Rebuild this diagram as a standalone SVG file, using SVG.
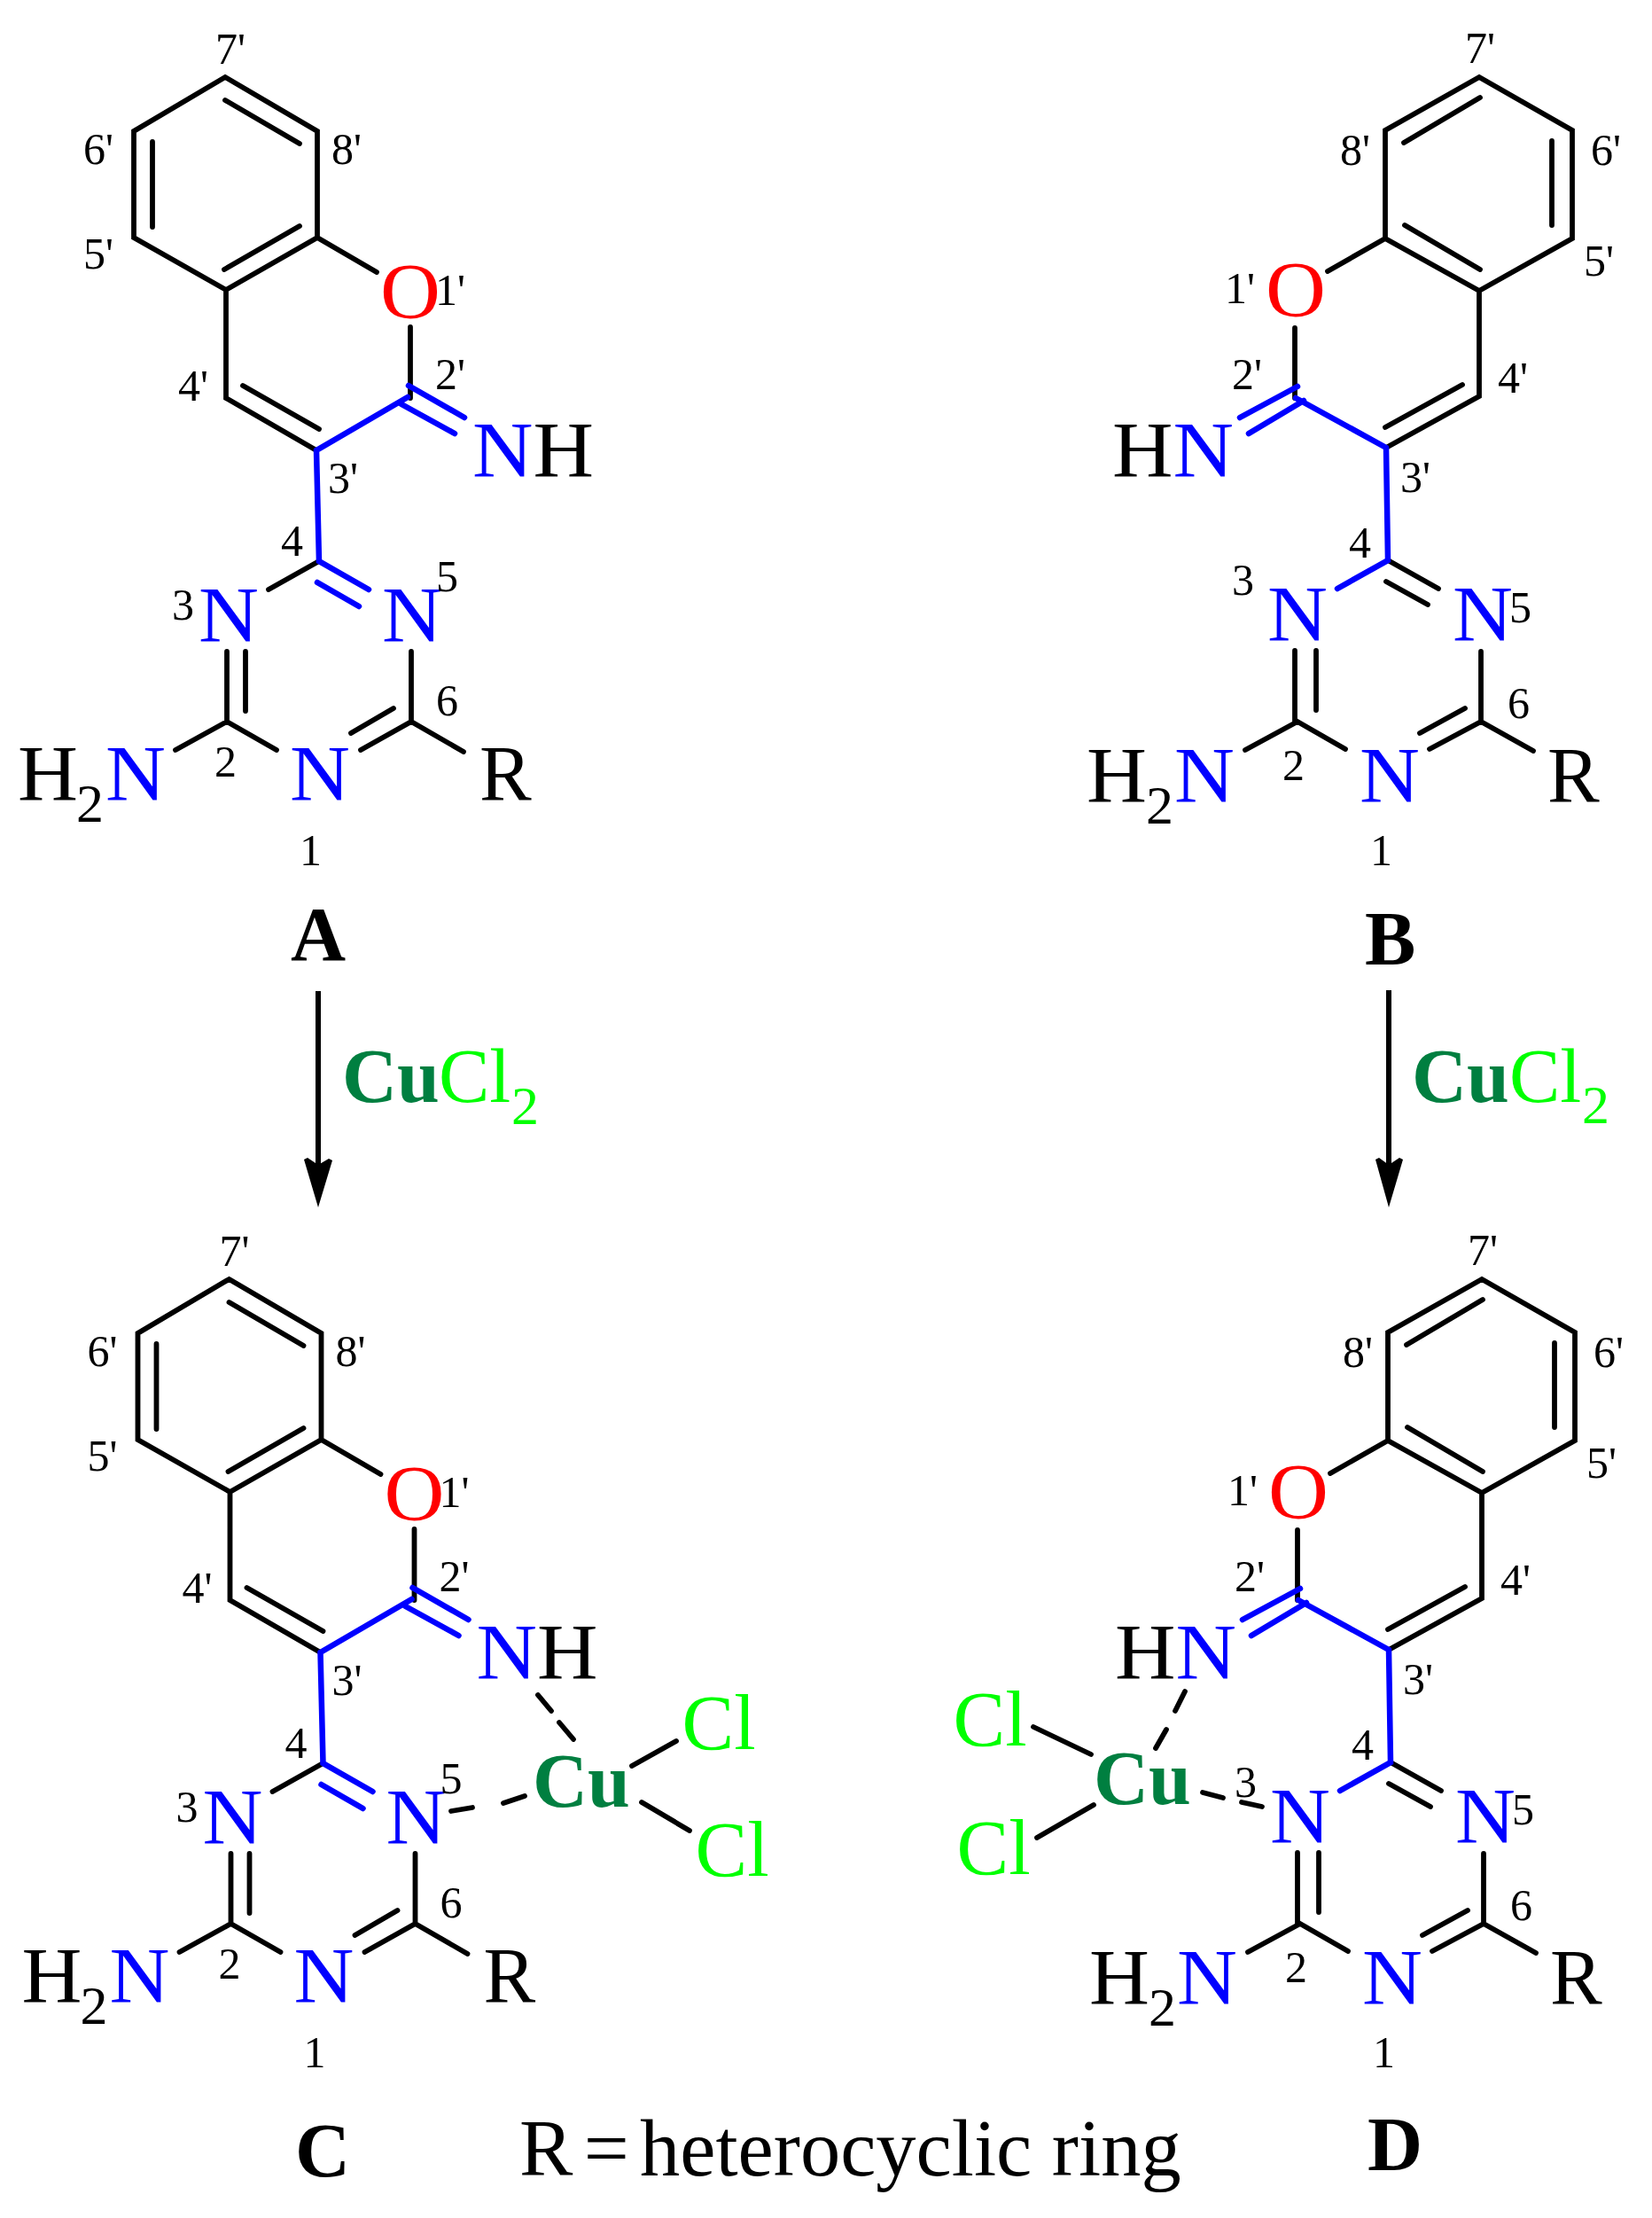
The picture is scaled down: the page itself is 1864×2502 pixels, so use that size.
<svg xmlns="http://www.w3.org/2000/svg" width="1864" height="2502" viewBox="0 0 1864 2502">
<defs><style>
text{font-family:"Liberation Serif","Times New Roman",serif;fill:#000}
.a{font-size:88px}.l{font-size:50px}.s{font-size:62px}.b{font-size:86px;font-weight:700}.cap{font-size:90.5px}
.bl{fill:#0000ff}.r{fill:#ff0000}.g{fill:#00ff00}.dg{fill:#007f40;font-weight:700}
.k{stroke:#000;stroke-width:5.8;fill:none;stroke-linecap:round;stroke-linejoin:miter}
.u{stroke:#0000ff;stroke-width:6.5;fill:none;stroke-linecap:round;stroke-linejoin:miter}
.sh{stroke:#000;stroke-width:6;fill:none}
</style></defs>
<rect width="1864" height="2502" fill="#fff"/>
<g id="connectors">
<path class="sh" d="M359 1118V1316"/><path d="M359 1362L343 1308L347 1306L359 1314L371 1307L375 1309Z" fill="#000"/>
<path class="sh" d="M1567 1117V1316"/><path d="M1567 1362L1552 1308L1556 1306L1567 1314L1579 1306L1583 1308Z" fill="#000"/>
</g>
<g id="A">
<path class="k" d="M254 87L358 148V268L255 327L151 268V148ZM254 113L338 162M253 304L338 255M172 160V256M358 268L425 307M463 369V449M255 327V449L357 508M274 435L360 484M360 633L303 665M256 735V814M277 735V802M198 846L256 814L312 846M464 735V814L407 846M444 799L396 827M464 814L523 848"/>
<path class="u" d="M357 508L460 448M461 435L524 471M453 456L513 489M357 508L360 633L416 665M358 657L405 684"/>
<text class="a r" x="429" y="358" textLength="68" lengthAdjust="spacingAndGlyphs">O</text>
<text class="a" x="533" y="537" textLength="137" lengthAdjust="spacingAndGlyphs"><tspan class="bl">N</tspan>H</text>
<text class="a bl" x="224" y="723" textLength="68" lengthAdjust="spacingAndGlyphs">N</text><text class="a bl" x="431" y="723" textLength="68" lengthAdjust="spacingAndGlyphs">N</text><text class="a bl" x="327" y="902" textLength="68" lengthAdjust="spacingAndGlyphs">N</text>
<text class="a" x="541" y="902">R</text>
<text class="a" x="20" y="902" textLength="68" lengthAdjust="spacingAndGlyphs">H</text><text class="s" x="86" y="927">2</text><text class="a bl" x="119" y="902" textLength="68" lengthAdjust="spacingAndGlyphs">N</text>
<text class="l" x="243" y="72">7'</text><text class="l" x="94" y="185">6'</text><text class="l" x="374" y="185">8'</text><text class="l" x="94" y="303">5'</text><text class="l" x="491" y="344">1'</text><text class="l" x="491" y="439">2'</text><text class="l" x="201" y="452">4'</text><text class="l" x="370" y="556">3'</text><text class="l" x="317" y="627">4</text><text class="l" x="194" y="699">3</text><text class="l" x="492" y="667">5</text><text class="l" x="492" y="807">6</text><text class="l" x="242" y="876">2</text><text class="l" x="338" y="976">1</text>
<text class="b" x="328" y="1083">A</text>
</g>
<g id="B" transform="translate(-3 -1356)">
<path class="k" d="M1672 1443L1777 1503V1625L1672 1684L1566 1625V1503ZM1587 1517L1673 1466M1588 1610L1673 1660M1754 1515V1610M1566 1625L1501 1662M1464 1726V1805M1672 1684V1803L1567 1861M1566 1838L1653 1790M1569 1988L1626 2020M1567 2012L1614 2038M1464 2090V2170M1488 2090V2157M1408 2202L1467 2170L1521 2201M1674 2091V2170L1616 2201M1656 2155L1605 2183M1674 2170L1733 2203"/>
<path class="u" d="M1567 1861L1465 1805M1467 1792L1402 1827M1474 1808L1412 1845M1567 1861L1569 1988L1512 2020"/>
<text class="a r" x="1431" y="1712" textLength="68" lengthAdjust="spacingAndGlyphs">O</text>
<text class="a" x="1258" y="1893" textLength="137" lengthAdjust="spacingAndGlyphs">H<tspan class="bl">N</tspan></text>
<text class="a bl" x="1433" y="2078" textLength="68" lengthAdjust="spacingAndGlyphs">N</text><text class="a bl" x="1642" y="2078" textLength="68" lengthAdjust="spacingAndGlyphs">N</text><text class="a bl" x="1537" y="2260" textLength="68" lengthAdjust="spacingAndGlyphs">N</text>
<text class="a" x="1749" y="2260">R</text>
<text class="a" x="1229" y="2260" textLength="68" lengthAdjust="spacingAndGlyphs">H</text><text class="s" x="1296" y="2285">2</text><text class="a bl" x="1328" y="2260" textLength="68" lengthAdjust="spacingAndGlyphs">N</text>
<text class="l" x="1656" y="1427">7'</text><text class="l" x="1515" y="1542">8'</text><text class="l" x="1798" y="1542">6'</text><text class="l" x="1790" y="1667">5'</text><text class="l" x="1385" y="1698">1'</text><text class="l" x="1393" y="1795">2'</text><text class="l" x="1693" y="1799">4'</text><text class="l" x="1583" y="1911">3'</text><text class="l" x="1525" y="1985">4</text><text class="l" x="1393" y="2027">3</text><text class="l" x="1706" y="2058">5</text><text class="l" x="1704" y="2166">6</text><text class="l" x="1450" y="2236">2</text><text class="l" x="1549" y="2332">1</text>
<text class="b" x="1543" y="2444">B</text>
</g>
<g id="reagent-left"><text class="b"><tspan class="dg" x="386" y="1243">Cu</tspan><tspan class="g" font-weight="400" x="495" y="1243">Cl</tspan><tspan class="g" font-weight="400" font-size="62" x="577" y="1268">2</tspan></text></g>
<g id="reagent-right"><text class="b"><tspan class="dg" x="1593" y="1243">Cu</tspan><tspan class="g" font-weight="400" x="1703" y="1243">Cl</tspan><tspan class="g" font-weight="400" font-size="62" x="1785" y="1267">2</tspan></text></g>
<g id="C">
<g transform="translate(4.5 1356)">
<path class="k" d="M254 87L358 148V268L255 327L151 268V148ZM254 113L338 162M253 304L338 255M172 160V256M358 268L425 307M463 369V449M255 327V449L357 508M274 435L360 484M360 633L303 665M256 735V814M277 735V802M198 846L256 814L312 846M464 735V814L407 846M444 799L396 827M464 814L523 848"/>
<path class="u" d="M357 508L460 448M461 435L524 471M453 456L513 489M357 508L360 633L416 665M358 657L405 684"/>
<text class="a r" x="429" y="358" textLength="68" lengthAdjust="spacingAndGlyphs">O</text>
<text class="a" x="533" y="537" textLength="137" lengthAdjust="spacingAndGlyphs"><tspan class="bl">N</tspan>H</text>
<text class="a bl" x="224" y="723" textLength="68" lengthAdjust="spacingAndGlyphs">N</text><text class="a bl" x="431" y="723" textLength="68" lengthAdjust="spacingAndGlyphs">N</text><text class="a bl" x="327" y="902" textLength="68" lengthAdjust="spacingAndGlyphs">N</text>
<text class="a" x="541" y="902">R</text>
<text class="a" x="20" y="902" textLength="68" lengthAdjust="spacingAndGlyphs">H</text><text class="s" x="86" y="927">2</text><text class="a bl" x="119" y="902" textLength="68" lengthAdjust="spacingAndGlyphs">N</text>
<text class="l" x="243" y="72">7'</text><text class="l" x="94" y="185">6'</text><text class="l" x="374" y="185">8'</text><text class="l" x="94" y="303">5'</text><text class="l" x="491" y="344">1'</text><text class="l" x="491" y="439">2'</text><text class="l" x="201" y="452">4'</text><text class="l" x="370" y="556">3'</text><text class="l" x="317" y="627">4</text><text class="l" x="194" y="699">3</text><text class="l" x="492" y="667">5</text><text class="l" x="492" y="807">6</text><text class="l" x="242" y="876">2</text><text class="l" x="338" y="976">1</text>
</g>
<path class="k" d="M607 1912L622 1930M631 1943L647 1962M509 2043L533 2039M568 2034L592 2026M713 1992L763 1964M724 2033L778 2065"/>
<text class="b dg" x="601" y="2038">Cu</text>
<text class="a g" x="769.5" y="1973">Cl</text><text class="a g" x="784.5" y="2116">Cl</text>
<text class="b" x="333" y="2455">C</text>
</g>
<g id="D">
<path class="k" d="M1672 1443L1777 1503V1625L1672 1684L1566 1625V1503ZM1587 1517L1673 1466M1588 1610L1673 1660M1754 1515V1610M1566 1625L1501 1662M1464 1726V1805M1672 1684V1803L1567 1861M1566 1838L1653 1790M1569 1988L1626 2020M1567 2012L1614 2038M1464 2090V2170M1488 2090V2157M1408 2202L1467 2170L1521 2201M1674 2091V2170L1616 2201M1656 2155L1605 2183M1674 2170L1733 2203"/>
<path class="u" d="M1567 1861L1465 1805M1467 1792L1402 1827M1474 1808L1412 1845M1567 1861L1569 1988L1512 2020"/>
<text class="a r" x="1431" y="1712" textLength="68" lengthAdjust="spacingAndGlyphs">O</text>
<text class="a" x="1258" y="1893" textLength="137" lengthAdjust="spacingAndGlyphs">H<tspan class="bl">N</tspan></text>
<text class="a bl" x="1433" y="2078" textLength="68" lengthAdjust="spacingAndGlyphs">N</text><text class="a bl" x="1642" y="2078" textLength="68" lengthAdjust="spacingAndGlyphs">N</text><text class="a bl" x="1537" y="2260" textLength="68" lengthAdjust="spacingAndGlyphs">N</text>
<text class="a" x="1749" y="2260">R</text>
<text class="a" x="1229" y="2260" textLength="68" lengthAdjust="spacingAndGlyphs">H</text><text class="s" x="1296" y="2285">2</text><text class="a bl" x="1328" y="2260" textLength="68" lengthAdjust="spacingAndGlyphs">N</text>
<text class="l" x="1656" y="1427">7'</text><text class="l" x="1515" y="1542">8'</text><text class="l" x="1798" y="1542">6'</text><text class="l" x="1790" y="1667">5'</text><text class="l" x="1385" y="1698">1'</text><text class="l" x="1393" y="1795">2'</text><text class="l" x="1693" y="1799">4'</text><text class="l" x="1583" y="1911">3'</text><text class="l" x="1525" y="1985">4</text><text class="l" x="1393" y="2027">3</text><text class="l" x="1706" y="2058">5</text><text class="l" x="1704" y="2166">6</text><text class="l" x="1450" y="2236">2</text><text class="l" x="1549" y="2332">1</text>
<path class="k" d="M1337 1908L1326 1930M1316 1951L1304 1972M1357 2022L1380 2028M1401 2033L1424 2038M1166 1948L1231 1979M1170 2073L1234 2036"/>
<text class="b dg" x="1234" y="2035">Cu</text>
<text class="a g" x="1075.5" y="1969">Cl</text><text class="a g" x="1079.5" y="2114">Cl</text>
<text class="b" x="1543" y="2448">D</text>
</g>
<g id="caption"><text class="cap" x="586" y="2454"><tspan word-spacing="-10.3">R = </tspan>heterocyclic ring</text></g>
</svg>
